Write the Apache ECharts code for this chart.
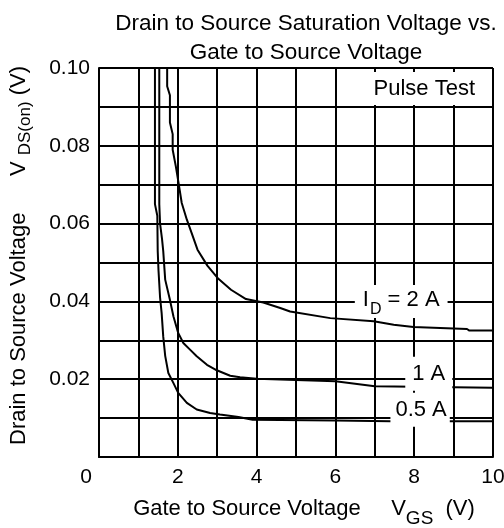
<!DOCTYPE html>
<html>
<head>
<meta charset="utf-8">
<script src="https://cdn.jsdelivr.net/npm/echarts@6/dist/echarts.min.js"></script>
<style>html,body{margin:0;padding:0;background:#fff;}#chart{width:504px;height:528px;}</style>
</head>
<body>
<div id="chart"></div>
<script>
// tick labels
const xLabels = ['0', '2', '4', '6', '8', '10'];
const yLabels = ['0.10', '0.08', '0.06', '0.04', '0.02'];

// I_D = 0.5 A
const vgsHalf = [1.42, 1.42, 1.48, 1.49, 1.51, 1.55, 1.59, 1.63, 1.68, 1.76, 1.89, 2.01, 2.23, 2.48, 2.82, 3.07, 3.54, 3.9, 6.0, 7.4, 10];
const vdsHalf = [0.100, 0.065, 0.062, 0.053, 0.048, 0.041, 0.037, 0.031, 0.026, 0.0216, 0.019, 0.0165, 0.0139, 0.0122, 0.0113, 0.0109, 0.0103, 0.0096, 0.0094, 0.0092, 0.0092];
// I_D = 1 A
const vgsOne = [1.53, 1.53, 1.55, 1.60, 1.63, 1.68, 1.80, 1.89, 2.01, 2.14, 2.31, 2.48, 2.74, 2.99, 3.33, 3.58, 4.0, 6.0, 7.0, 10];
const vdsOne = [0.100, 0.065, 0.060, 0.056, 0.053, 0.0456, 0.0404, 0.0361, 0.0319, 0.0293, 0.0276, 0.0259, 0.0237, 0.0223, 0.0209, 0.0205, 0.0201, 0.0195, 0.0182, 0.0178];
// I_D = 2 A
const vgsTwo = [1.73, 1.73, 1.80, 1.80, 1.87, 1.87, 1.95, 2.02, 2.10, 2.23, 2.35, 2.50, 2.75, 3.03, 3.35, 3.73, 4.17, 4.6, 4.85, 5.87, 6.97, 7.48, 7.98, 9.34, 9.4, 10];
const vdsTwo = [0.100, 0.0953, 0.093, 0.086, 0.083, 0.079, 0.0747, 0.0704, 0.0653, 0.061, 0.0576, 0.0533, 0.0492, 0.0458, 0.0430, 0.0406, 0.0397, 0.0383, 0.0374, 0.0357, 0.0349, 0.034, 0.0334, 0.0329, 0.0325, 0.0325];

const font = '"Liberation Sans", Arial, sans-serif';
const zip = (xs, ys) => xs.map((x, i) => [x, ys[i]]);

const curve = data => ({
  type: 'line', data, symbol: 'none', z: 3, silent: true,
  lineStyle: { color: '#000', width: 2 }
});

const chart = echarts.init(document.getElementById('chart'), null, { renderer: 'canvas' });
chart.setOption({
  animation: false,
  backgroundColor: '#fff',
  title: {
    text: 'Drain to Source Saturation Voltage vs.\nGate to Source Voltage',
    left: 306, textAlign: 'center', top: 10, padding: 0,
    textStyle: { fontSize: 22.5, fontWeight: 'normal', fontFamily: font, color: '#000', lineHeight: 28.5 }
  },
  grid: { left: 99, right: 11, top: 68, bottom: 71, containLabel: false, outerBoundsMode: 'none' },
  xAxis: {
    type: 'value', min: 0, max: 10, interval: 1,
    axisLine: { show: true, onZero: false, lineStyle: { color: '#000', width: 2 } },
    axisTick: { show: false },
    splitLine: { show: true, lineStyle: { color: '#000', width: 2 } },
    axisLabel: {
      margin: 10, color: '#000', fontSize: 21, fontFamily: font, showMinLabel: true, showMaxLabel: true,
      formatter: v => xLabels.includes(String(v)) ? (v === 0 ? '{z|0}' : String(v)) : '',
      rich: { z: { fontSize: 21, fontFamily: font, color: '#000', padding: [0, 26, 0, 0] } }
    },
    name: '{m|Gate to Source Voltage     V}{s|GS}{m|  (V)}',
    nameLocation: 'middle', nameGap: 41,
    nameTextStyle: {
      color: '#000', fontFamily: font, fontSize: 22, padding: [0, 0, 0, 16],
      rich: {
        m: { fontSize: 22, lineHeight: 25, verticalAlign: 'top', fontFamily: font, color: '#000' },
        s: { fontSize: 19, lineHeight: 20, padding: [11, 0, 0, 0], verticalAlign: 'top', fontFamily: font, color: '#000' }
      }
    }
  },
  yAxis: {
    type: 'value', min: 0, max: 0.1, interval: 0.01,
    axisLine: { show: true, onZero: false, lineStyle: { color: '#000', width: 2 } },
    axisTick: { show: false },
    splitLine: { show: true, lineStyle: { color: '#000', width: 2 } },
    axisLabel: {
      margin: 9, color: '#000', fontSize: 21, fontFamily: font, showMaxLabel: true,
      formatter: v => { const s = v.toFixed(2); return yLabels.includes(s) ? s : ''; }
    },
    name: '{m|Drain to Source Voltage      V}{s|DS(on)}{m| (V)}',
    nameLocation: 'middle', nameRotate: 90, nameGap: 66,
    nameTextStyle: {
      color: '#000', fontFamily: font, fontSize: 22, padding: [0, 0, 0, 14],
      rich: {
        m: { fontSize: 22, lineHeight: 25, verticalAlign: 'top', fontFamily: font, color: '#000' },
        s: { fontSize: 17, lineHeight: 18, padding: [9, 0, 0, 6], verticalAlign: 'top', fontFamily: font, color: '#000' }
      }
    }
  },
  series: [
    curve(zip(vgsHalf, vdsHalf)),
    curve(zip(vgsOne, vdsOne)),
    curve(zip(vgsTwo, vdsTwo)),
    {
      type: 'scatter', symbolSize: 1, z: 10, silent: true,
      itemStyle: { color: 'rgba(255,255,255,0)', opacity: 1 },
      labelLayout: { hideOverlap: false },
      label: {
        show: true, position: 'inside', color: '#000', fontFamily: font, fontSize: 22,
        lineHeight: 25, backgroundColor: '#fff', opacity: 1
      },
      data: [
        { value: [8.09, 0.0947], label: { formatter: 'Pulse Test', padding: [4, 14, 4, 27] } },
        {
          value: [7.67, 0.0400],
          label: {
            formatter: '{m|I}{s|D}{m| = 2 A}', padding: [4, 8, 4, 8],
            rich: {
              m: { fontSize: 22, lineHeight: 25, verticalAlign: 'top', fontFamily: font, color: '#000' },
              s: { fontSize: 16, lineHeight: 16, padding: [13, 0, 0, 1], verticalAlign: 'top', fontFamily: font, color: '#000' }
            }
          }
        },
        { value: [8.37, 0.0214], label: { formatter: '1 A', padding: [4.5, 7, 4.5, 7] } },
        { value: [8.15, 0.01215], label: { formatter: '0.5 A', padding: [4.5, 3, 4.5, 5] } }
      ]
    }
  ]
});
</script>
</body>
</html>
